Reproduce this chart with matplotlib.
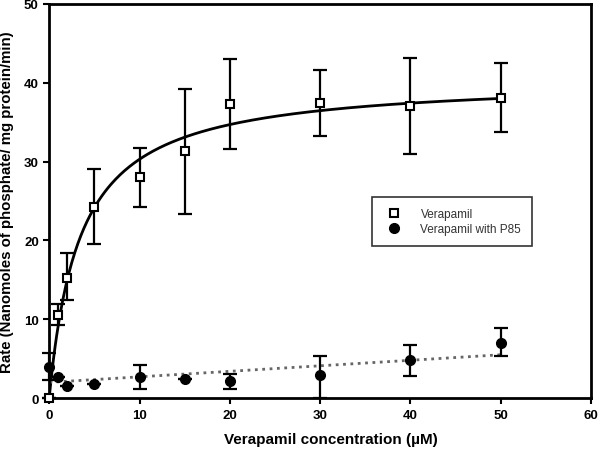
import numpy as np
import matplotlib
matplotlib.use("Agg")
import matplotlib.pyplot as plt

plt.rcParams['font.family'] = ['Liberation Sans', 'DejaVu Sans']
plt.rcParams['font.weight'] = 'bold'

# Verapamil (open squares)
vera_x = [0, 1, 2, 5, 10, 15, 20, 30, 40, 50]
vera_y = [0.0, 10.6, 15.3, 24.3, 28.0, 31.3, 37.3, 37.4, 37.0, 38.1]
vera_hi = [0.0, 11.9, 18.4, 29.1, 31.7, 39.2, 43.0, 41.6, 43.1, 42.5]
vera_lo = [0.0, 9.3, 12.4, 19.6, 24.3, 23.4, 31.6, 33.2, 31.0, 33.7]

# Verapamil with P85 (filled circles)
p85_x = [0, 1, 2, 5, 10, 15, 20, 30, 40, 50]
p85_y = [4.0, 2.7, 1.5, 1.8, 2.7, 2.4, 2.2, 2.9, 4.8, 7.0]
p85_hi = [5.7, 2.7, 1.5, 1.8, 4.2, 2.4, 3.0, 5.4, 6.8, 8.9]
p85_lo = [2.3, 2.7, 1.5, 1.8, 1.1, 2.4, 1.2, 0.0, 2.8, 5.3]

# fitted curves
vmax, km = 40.6, 3.4          # Michaelis-Menten fit for Verapamil
lin_a, lin_b = 2.0, 0.07      # linear fit for Verapamil with P85

fig = plt.figure(figsize=(6, 4.52), dpi=100)
ax = fig.add_axes([0.082, 0.117, 0.903, 0.872])

xs = np.linspace(0, 50, 300)
ax.plot(xs, vmax * xs / (km + xs), '-', color='black', lw=2, zorder=2)
ax.plot(xs, lin_a + lin_b * xs, ':', color='#666666', lw=2, zorder=2)

ve = [np.array(vera_y) - np.array(vera_lo), np.array(vera_hi) - np.array(vera_y)]
pe = [np.array(p85_y) - np.array(p85_lo), np.array(p85_hi) - np.array(p85_y)]
ax.errorbar(vera_x, vera_y, yerr=ve, fmt='none', ecolor='black', elinewidth=1.6,
            capsize=5, capthick=1.6, zorder=3, clip_on=False)
ax.errorbar(p85_x, p85_y, yerr=pe, fmt='none', ecolor='black', elinewidth=1.6,
            capsize=5, capthick=1.6, zorder=3, clip_on=False)
ax.plot(vera_x, vera_y, 's', ms=6, mfc='white', mec='black', mew=1.5,
        ls='none', label='Verapamil', zorder=4, clip_on=False)
ax.plot(p85_x, p85_y, 'o', ms=7, color='black', ls='none',
        label='Verapamil with P85', zorder=4, clip_on=False)

ax.set_xlim(0, 60)
ax.set_ylim(0, 50)
ax.set_xticks(range(0, 61, 10))
ax.set_yticks(range(0, 51, 10))
for s in ax.spines.values():
    s.set_linewidth(2)
ax.tick_params(direction='out', length=4, width=1.5, labelsize=9.5)
ax.set_xlabel('Verapamil concentration (µM)', fontsize=11, fontweight='bold', labelpad=9)
ax.set_ylabel('Rate (Nanomoles of phosphate/ mg protein/min)', fontsize=10.8,
              fontweight='bold', labelpad=7)
ax.xaxis.set_label_coords(0.52, -0.085)

leg = ax.legend(loc='upper left', bbox_to_anchor=(0.585, 0.525), fontsize=8,
                frameon=True, fancybox=False, edgecolor='black',
                handletextpad=1.2, borderpad=0.9, labelspacing=0.3,
                prop={'weight': 'normal', 'size': 8.5})
leg.get_frame().set_linewidth(1.2)
for t in leg.get_texts():
    t.set_color('#333333')

fig.savefig('out.png', dpi=100)
